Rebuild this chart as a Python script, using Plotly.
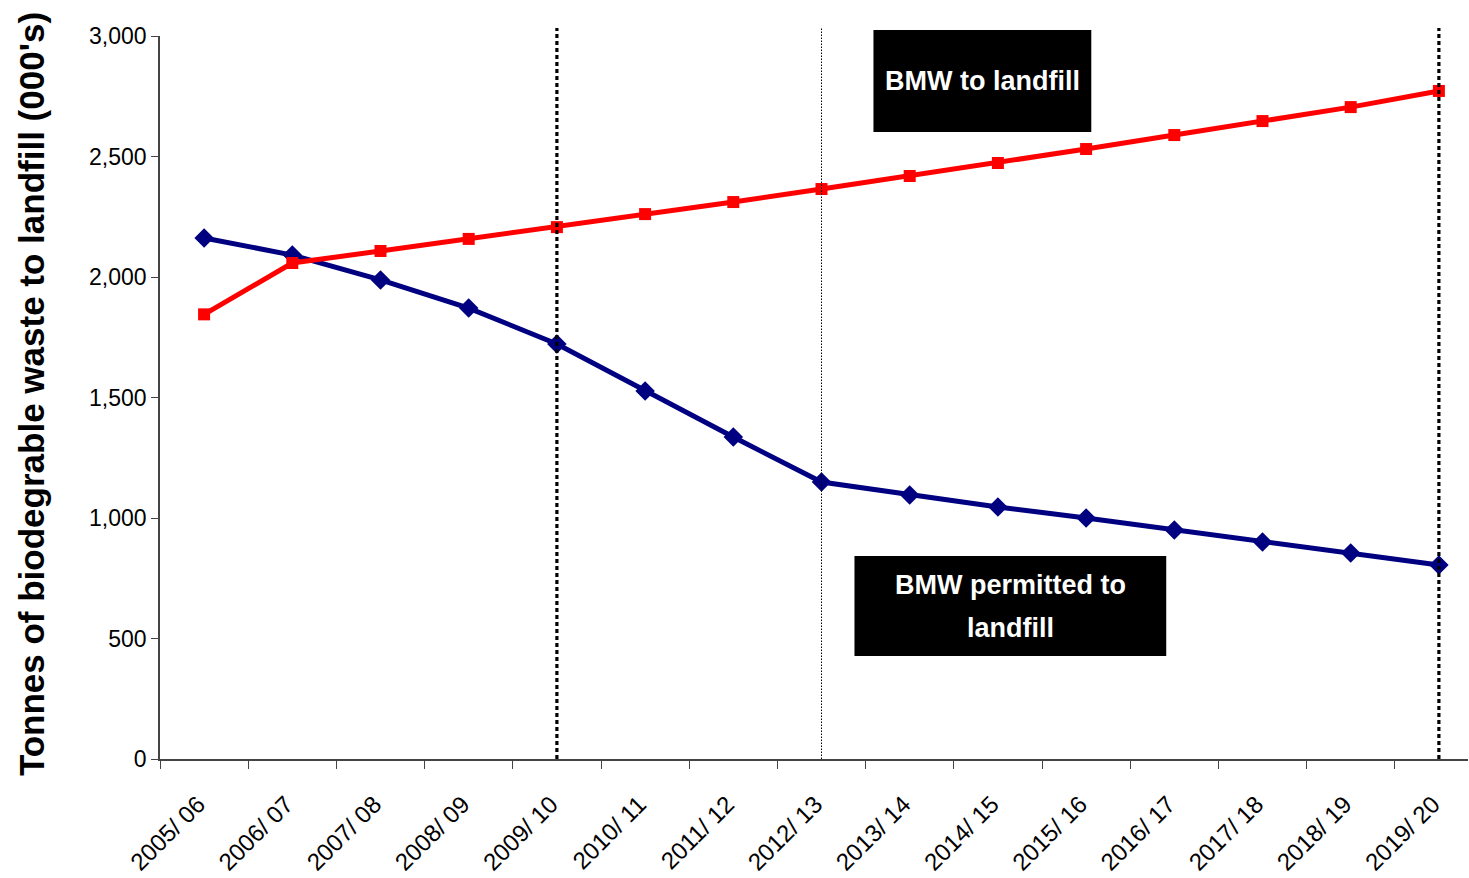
import plotly.graph_objects as go

# Financial years on the category axis
years = ["2005/ 06", "2006/ 07", "2007/ 08", "2008/ 09", "2009/ 10",
         "2010/ 11", "2011/ 12", "2012/ 13", "2013/ 14", "2014/ 15",
         "2015/ 16", "2016/ 17", "2017/ 18", "2018/ 19", "2019/ 20"]

# Biodegradable municipal waste, thousand tonnes
bmw_to_landfill = [1845, 2058, 2108, 2158, 2207, 2261, 2311, 2365,
                   2419, 2473, 2531, 2589, 2647, 2705, 2772]
bmw_permitted = [2162, 2091, 1988, 1871, 1722, 1527, 1336, 1149,
                 1095, 1046, 1000, 950, 900, 855, 805]

# Target years marked with vertical dotted lines
target_years = ["2009/ 10", "2012/ 13", "2019/ 20"]
target_styles = [("4px,3px", 3.2), ("1.5px,1.5px", 1), ("4px,3px", 3.2)]

y_ticks = [0, 500, 1000, 1500, 2000, 2500, 3000]

FONT = "Liberation Sans, Arial, sans-serif"

fig = go.Figure()
fig.add_trace(go.Scatter(
    x=years, y=bmw_permitted, mode="lines+markers", name="BMW permitted to landfill",
    line=dict(color="#000080", width=5),
    marker=dict(symbol="diamond", size=15, color="#000080"),
    cliponaxis=False,
))
fig.add_trace(go.Scatter(
    x=years, y=bmw_to_landfill, mode="lines+markers", name="BMW to landfill",
    line=dict(color="#FF0000", width=5),
    marker=dict(symbol="square", size=12, color="#FF0000"),
    cliponaxis=False,
))

for yr, (dash, w) in zip(target_years, target_styles):
    idx = years.index(yr)
    fig.add_shape(type="line", xref="x", yref="paper",
                  x0=idx, x1=idx, y0=0, y1=1.011,
                  line=dict(color="black", width=w, dash=dash), layer="above")

# Black label boxes
fig.add_shape(type="rect", xref="paper", yref="paper",
              x0=(874 - 160) / 1309, x1=(1092 - 160) / 1309,
              y0=(759 - 132) / 723, y1=(759 - 30) / 723,
              fillcolor="black", line=dict(width=0), layer="above")
fig.add_shape(type="rect", xref="paper", yref="paper",
              x0=(855 - 160) / 1309, x1=(1167 - 160) / 1309,
              y0=(759 - 656) / 723, y1=(759 - 556) / 723,
              fillcolor="black", line=dict(width=0), layer="above")

fig.add_annotation(xref="paper", yref="paper", x=(983 - 160) / 1309, y=(759 - 81) / 723,
                   text="<b>BMW to landfill</b>", showarrow=False,
                   font=dict(family=FONT, size=27, color="white"),
                   xanchor="center", yanchor="middle")
fig.add_annotation(xref="paper", yref="paper", x=(1011 - 160) / 1309, y=(759 - 585) / 723,
                   text="<b>BMW permitted to</b>", showarrow=False,
                   font=dict(family=FONT, size=27, color="white"),
                   xanchor="center", yanchor="middle")
fig.add_annotation(xref="paper", yref="paper", x=(1011 - 160) / 1309, y=(759 - 628) / 723,
                   text="<b>landfill</b>", showarrow=False,
                   font=dict(family=FONT, size=27, color="white"),
                   xanchor="center", yanchor="middle")

# Y axis title
fig.add_annotation(xref="paper", yref="paper", x=(31 - 160) / 1309, y=(759 - 394) / 723,
                   text="<b>Tonnes of biodegrable waste to landfill (000's)</b>",
                   textangle=-90, showarrow=False,
                   font=dict(family=FONT, size=35, color="black"),
                   xanchor="center", yanchor="middle")

fig.update_layout(
    width=1469, height=878,
    margin=dict(l=160, r=1, t=36, b=119),
    paper_bgcolor="white", plot_bgcolor="white",
    showlegend=False,
    font=dict(family=FONT, color="black"),
)
fig.update_xaxes(
    type="category", categoryorder="array", categoryarray=years,
    range=[-0.5, 14.33], tickson="boundaries",
    ticks="outside", ticklen=8, tickcolor="#444", tickwidth=1,
    showline=True, linecolor="#444", linewidth=1.5,
    showgrid=False, zeroline=False,
    tickangle=-45, tickfont=dict(family=FONT, size=24, color="black"),
    ticklabelstandoff=20, ticklabelshift=-6,
)
fig.update_yaxes(
    range=[0, 3000], tickvals=y_ticks, tickformat=",",
    ticks="outside", ticklen=7, tickcolor="#444", tickwidth=1,
    showline=True, linecolor="#444", linewidth=1.5,
    showgrid=False, zeroline=False,
    tickfont=dict(family=FONT, size=23, color="black"),
)

fig.write_html("out.html")
